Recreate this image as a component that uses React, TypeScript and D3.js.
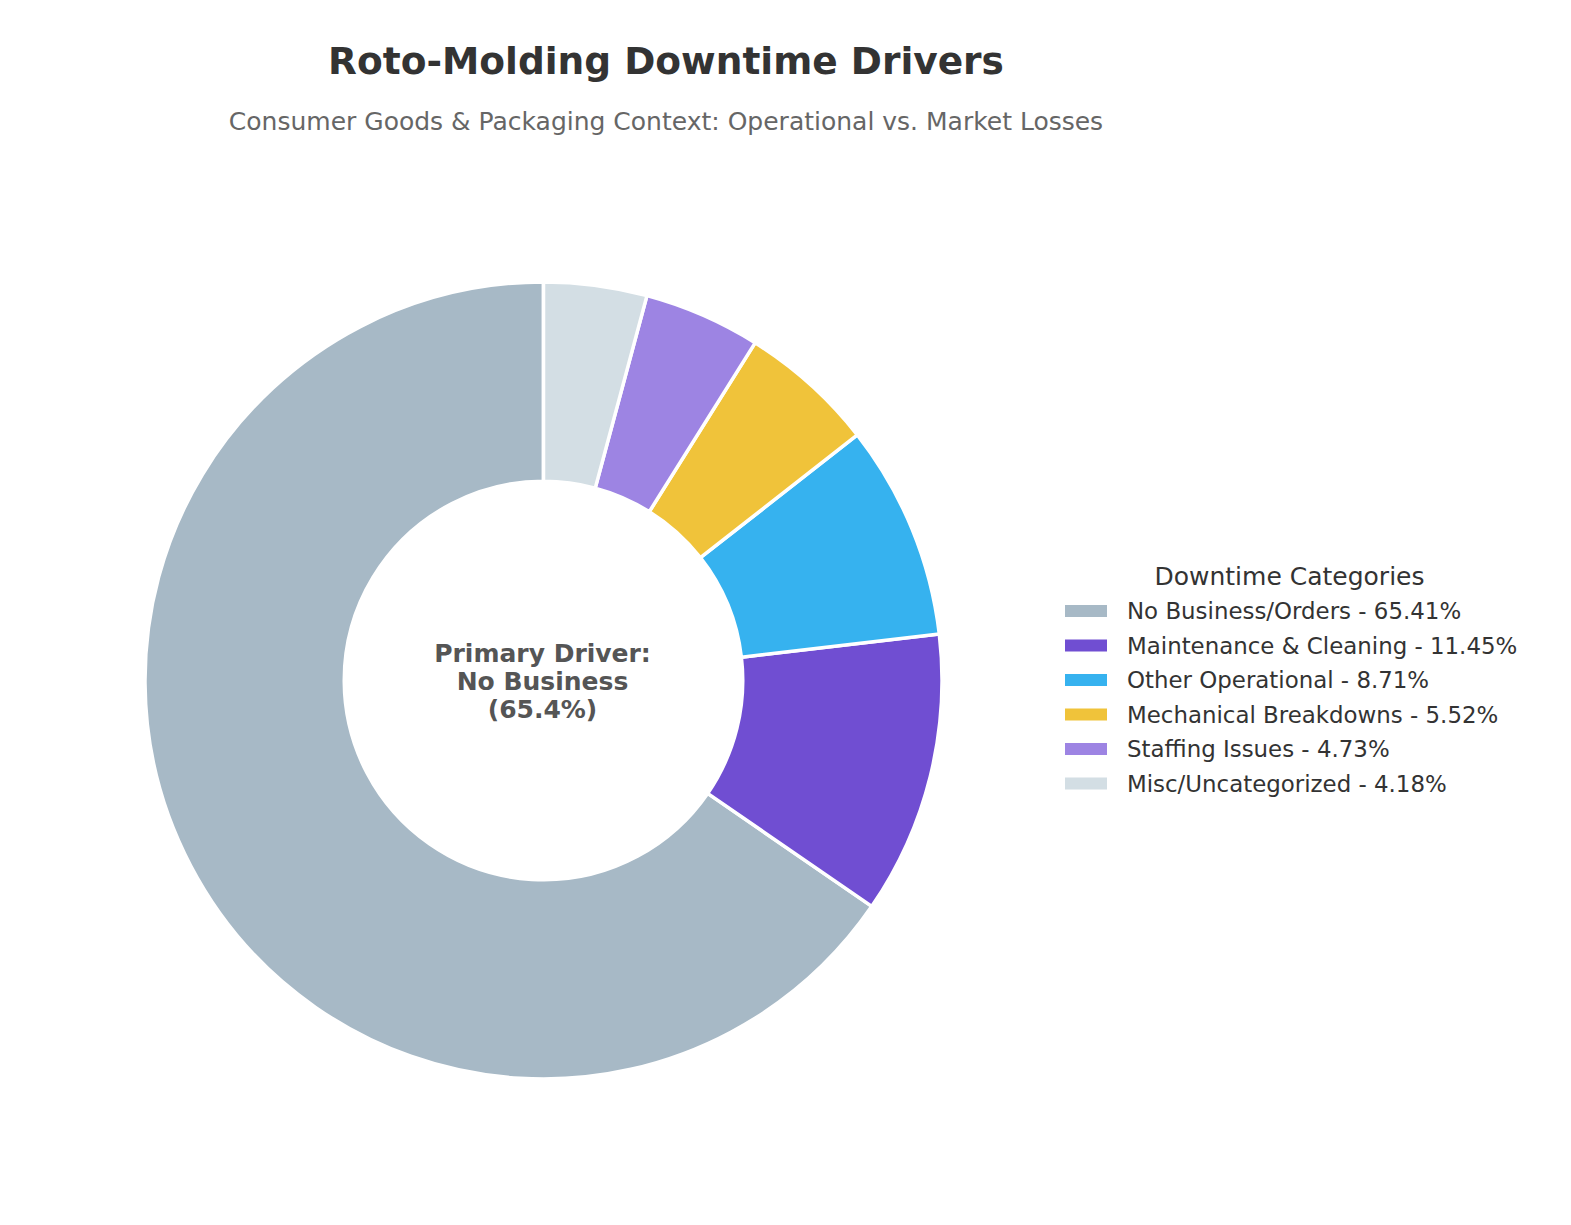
import React, { useEffect, useRef } from "react";
import * as d3 from "d3";

// downtime data
const categories = [
  "No Business/Orders",
  "Maintenance & Cleaning",
  "Other Operational",
  "Mechanical Breakdowns",
  "Staffing Issues",
  "Misc/Uncategorized",
];
const shares = [65.41, 11.45, 8.71, 5.52, 4.73, 4.18];
const colors = ["#A7B9C6", "#704ED2", "#36B2EF", "#F0C33A", "#9D84E3", "#D3DEE4"];
const centerLines = ["Primary Driver:", "No Business", "(65.4%)"];

const width = 1571;
const height = 1225;

export default function App() {
  const ref = useRef<SVGSVGElement>(null);

  useEffect(() => {
    const svg = d3.select(ref.current);
    svg.selectAll("*").remove();

    const font = "'DejaVu Sans', sans-serif";
    const cx = 543.5;
    const cy = 680.5;
    const rOuter = 398.5;
    const rInner = 199.25;

    // counter-clockwise from 12 o'clock, like matplotlib startangle=90
    const pie = d3
      .pie<number>()
      .sort(null)
      .startAngle(0)
      .endAngle(-2 * Math.PI)
      .value((d) => d);

    const arc = d3.arc<d3.PieArcDatum<number>>().innerRadius(rInner).outerRadius(rOuter);

    const g = svg.append("g").attr("transform", `translate(${cx},${cy})`);
    g.selectAll("path")
      .data(pie(shares))
      .enter()
      .append("path")
      .attr("d", arc)
      .attr("fill", (_, i) => colors[i])
      .attr("stroke", "white")
      .attr("stroke-width", 3.5)
      .attr("stroke-linejoin", "round");

    // center label
    g.append("text")
      .attr("text-anchor", "middle")
      .attr("font-family", font)
      .attr("font-weight", "bold")
      .attr("font-size", 25)
      .attr("fill", "#555555")
      .selectAll("tspan")
      .data(centerLines)
      .enter()
      .append("tspan")
      .attr("x", -1)
      .attr("y", (_, i) => (i - 1) * 28 + 9)
      .text((d) => d);

    // title + subtitle
    svg
      .append("text")
      .attr("x", 666)
      .attr("y", 74)
      .attr("text-anchor", "middle")
      .attr("font-family", font)
      .attr("font-weight", "bold")
      .attr("font-size", 37.5)
      .attr("fill", "#333333")
      .text("Roto-Molding Downtime Drivers");

    svg
      .append("text")
      .attr("x", 666)
      .attr("y", 130)
      .attr("text-anchor", "middle")
      .attr("font-family", font)
      .attr("font-size", 25)
      .attr("fill", "#666666")
      .text("Consumer Goods & Packaging Context: Operational vs. Market Losses");

    // legend
    const lg = svg.append("g");
    lg.append("text")
      .attr("x", 1289.5)
      .attr("y", 585)
      .attr("text-anchor", "middle")
      .attr("font-family", font)
      .attr("font-size", 25)
      .attr("fill", "#333333")
      .text("Downtime Categories");

    const rows = lg
      .selectAll("g.row")
      .data(categories)
      .enter()
      .append("g")
      .attr("class", "row")
      .attr("transform", (_, i) => `translate(0,${611 + i * 34.5})`);

    rows
      .append("rect")
      .attr("x", 1065)
      .attr("y", -6)
      .attr("width", 42)
      .attr("height", 12)
      .attr("fill", (_, i) => colors[i]);

    rows
      .append("text")
      .attr("x", 1127)
      .attr("y", 8)
      .attr("font-family", font)
      .attr("font-size", 22.9)
      .attr("fill", "#333333")
      .text((d, i) => `${d} - ${shares[i].toFixed(2)}%`);
  }, []);

  return (
    <div style={{ position: "absolute", left: 0, top: 0 }}>
      <svg ref={ref} width={width} height={height} style={{ display: "block", background: "white" }} />
    </div>
  );
}
